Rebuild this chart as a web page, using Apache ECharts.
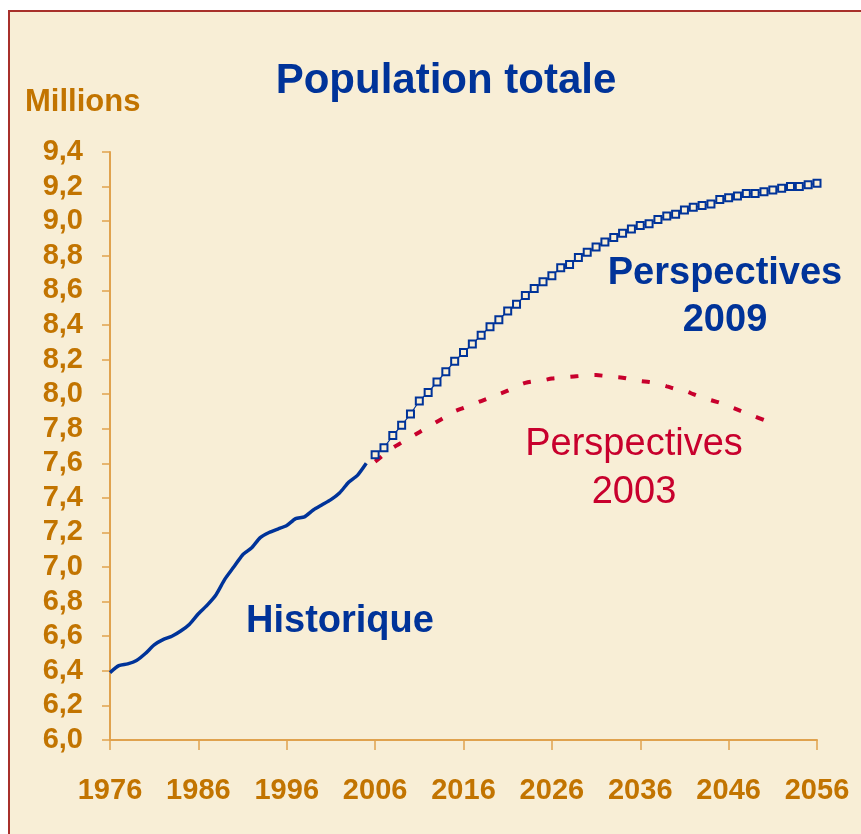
<!DOCTYPE html>
<html>
<head>
<meta charset="utf-8">
<script src="https://cdn.jsdelivr.net/npm/echarts@6/dist/echarts.min.js"></script>
<style>
  html, body { margin: 0; padding: 0; background: #ffffff; }
  #main { width: 861px; height: 834px; }
</style>
</head>
<body>
<div id="main"></div>
<script>
// Historique, annual 1976-2005 (millions)
const histStart = 1976
const histValues = [
  6.39, 6.43, 6.44, 6.46, 6.50, 6.55, 6.58, 6.60, 6.63, 6.67,
  6.73, 6.78, 6.84, 6.93, 7.00, 7.07, 7.11, 7.17, 7.20, 7.22,
  7.24, 7.28, 7.29, 7.33, 7.36, 7.39, 7.43, 7.49, 7.53, 7.60
]

// Perspectives 2009, annual 2006-2056
const p2009Start = 2006
const p2009Values = [
  7.65, 7.69, 7.76, 7.82, 7.885, 7.96, 8.01, 8.07, 8.13, 8.19,
  8.24, 8.29, 8.34, 8.39, 8.43, 8.48, 8.52, 8.57, 8.61, 8.65,
  8.685, 8.73, 8.75, 8.79, 8.82, 8.85, 8.88, 8.905, 8.93, 8.955,
  8.975, 8.985, 9.01, 9.03, 9.04, 9.065, 9.08, 9.09, 9.10, 9.125,
  9.135, 9.145, 9.16, 9.16, 9.17, 9.18, 9.19, 9.20, 9.20, 9.21,
  9.22
]

// Perspectives 2003, annual 2006-2050
const p2003Start = 2006
const p2003Values = [
  7.61, 7.65, 7.69, 7.72, 7.75, 7.78, 7.81, 7.84, 7.87, 7.90,
  7.92, 7.94, 7.96, 7.98, 8.00, 8.02, 8.045, 8.065, 8.075, 8.08,
  8.09, 8.095, 8.10, 8.105, 8.11, 8.11, 8.105, 8.10, 8.095, 8.085,
  8.075, 8.07, 8.06, 8.045, 8.03, 8.02, 8.00, 7.98, 7.965, 7.95,
  7.93, 7.91, 7.89, 7.87, 7.85
]

const orange = '#C27400'
const axisColor = '#E0A24E'
const blue = '#003399'
const red = '#C8002D'
const bg = '#F8EED6'
const font = '"Liberation Sans", Arial, sans-serif'

const toPairs = (start, arr) => arr.map((v, i) => [start + i, v])

const chart = echarts.init(document.getElementById('main'))

chart.setOption({
  backgroundColor: '#ffffff',
  animation: false,
  title: {
    text: 'Population totale',
    left: 441,
    top: 55,
    textAlign: 'center',
    textStyle: { color: blue, fontSize: 42, fontWeight: 'bold', fontFamily: font }
  },
  grid: { left: 110, right: 44, top: 152, bottom: 94 },
  xAxis: {
    type: 'value',
    min: 1976,
    max: 2056,
    interval: 10,
    axisLine: { lineStyle: { color: axisColor, width: 2 } },
    axisTick: { length: 10, lineStyle: { color: axisColor, width: 1.5 } },
    axisLabel: {
      margin: 36,
      color: orange,
      fontSize: 29,
      fontWeight: 'bold',
      fontFamily: font,
      formatter: v => String(v)
    },
    splitLine: { show: false }
  },
  yAxis: {
    type: 'value',
    min: 6.0,
    max: 9.4,
    interval: 0.2,
    axisLine: { show: true, lineStyle: { color: axisColor, width: 2 } },
    axisTick: { show: true, length: 8, lineStyle: { color: axisColor, width: 1.5 } },
    axisLabel: {
      margin: 27,
      color: orange,
      fontSize: 29,
      fontWeight: 'bold',
      fontFamily: font,
      formatter: v => v.toFixed(1).replace('.', ',')
    },
    splitLine: { show: false }
  },
  graphic: [
    {
      type: 'rect',
      z: -10,
      shape: { x: 9, y: 11, width: 900, height: 900 },
      style: { fill: bg, stroke: '#A8302B', lineWidth: 2 }
    },
    {
      type: 'text', left: 25, top: 87,
      style: { text: 'Millions', fill: orange, font: 'bold 31px ' + font }
    },
    {
      type: 'text', left: 246, top: 603,
      style: { text: 'Historique', fill: blue, font: 'bold 38px ' + font }
    },
    {
      type: 'text', x: 725, y: 250,
      style: {
        text: 'Perspectives\n2009', fill: blue, font: 'bold 38px ' + font,
        align: 'center', lineHeight: 47
      }
    },
    {
      type: 'text', x: 634, y: 421,
      style: {
        text: 'Perspectives\n2003', fill: red, font: '38px ' + font,
        align: 'center', lineHeight: 48
      }
    }
  ],
  series: [
    {
      name: 'Historique',
      type: 'line',
      data: toPairs(histStart, histValues),
      showSymbol: false,
      smooth: 0.2,
      lineStyle: { color: blue, width: 3.5 },
      z: 3
    },
    {
      name: 'Perspectives 2003',
      type: 'line',
      data: toPairs(p2003Start, p2003Values),
      showSymbol: false,
      smooth: 0.3,
      lineStyle: { color: red, width: 4, type: [8, 16] },
      z: 2
    },
    {
      name: 'Perspectives 2009',
      type: 'line',
      data: toPairs(p2009Start, p2009Values),
      symbol: 'rect',
      symbolSize: 7,
      showAllSymbol: true,
      lineStyle: { color: blue, width: 1.2 },
      itemStyle: { color: bg, borderColor: blue, borderWidth: 2 },
      z: 4
    }
  ]
})
</script>
</body>
</html>
